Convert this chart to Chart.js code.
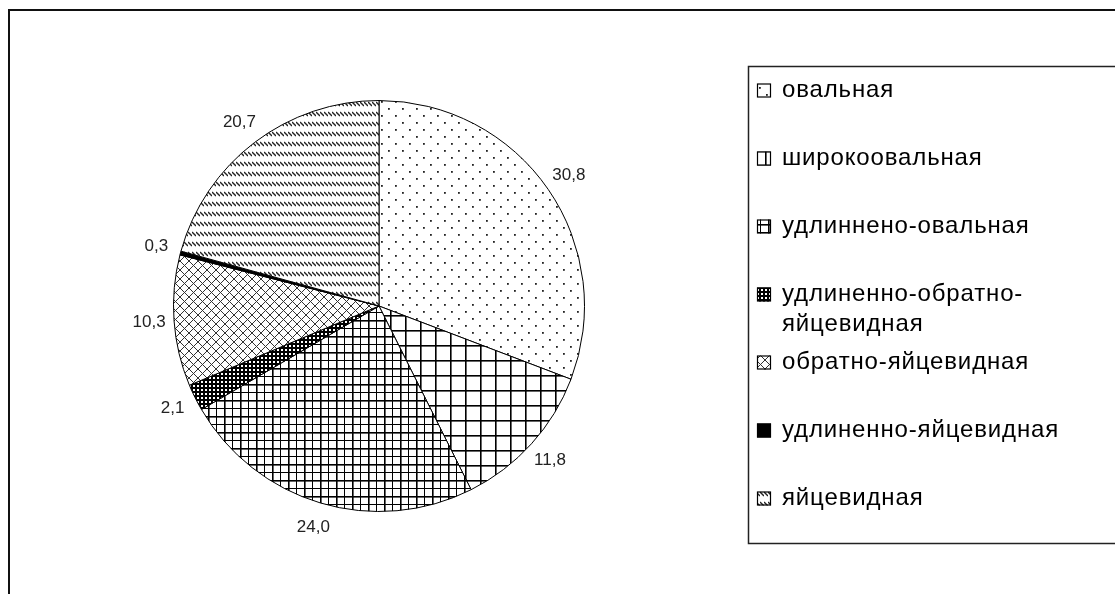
<!DOCTYPE html>
<html>
<head>
<meta charset="utf-8">
<script src="https://cdn.jsdelivr.net/npm/chart.js@4.4.1/dist/chart.umd.min.js"></script>
<style>
html, body { margin: 0; padding: 0; background: #fff; overflow: hidden; }
#wrap { width: 1115px; height: 594px; }
</style>
</head>
<body>
<div id="wrap"><canvas id="chart" width="1115" height="594"></canvas></div>
<script>
"use strict";

// data, clockwise from 12 o'clock
var categories = [
	'овальная',
	'широкоовальная',
	'удлиннено-овальная',
	['удлиненно-обратно-', 'яйцевидная'],
	'обратно-яйцевидная',
	'удлиненно-яйцевидная',
	'яйцевидная'
];
var values = [30.8, 11.8, 24.0, 2.1, 10.3, 0.3, 20.7];

// fill style for each slice (black & white hatching like the original)
var fillKinds = ['dots', 'grid', 'finegrid', 'dense', 'crosshatch', 'solid', 'dashes'];

function makePattern(kind) {
	if (kind === 'solid') return '#000';
	var tile = document.createElement('canvas');
	var t = tile.getContext('2d');
	var w = 8, h = 8;
	if (kind === 'dots') { w = 14; h = 14; }
	if (kind === 'grid') { w = 15; h = 15; }
	if (kind === 'finegrid') { w = 16; h = 16; }
	if (kind === 'dense') { w = 4; h = 4; }
	if (kind === 'crosshatch') { w = 9; h = 9; }
	if (kind === 'dashes') { w = 4; h = 10; }
	tile.width = w; tile.height = h;
	t.fillStyle = '#fff';
	t.fillRect(0, 0, w, h);
	t.fillStyle = '#000';
	t.strokeStyle = '#000';
	if (kind === 'dots') {
		t.fillStyle = '#222';
		t.fillRect(3, 3, 1.8, 1.8);
		t.fillRect(10, 10, 1.8, 1.8);
	} else if (kind === 'grid') {
		t.fillRect(0, 0, w, 1.6);
		t.fillRect(0, 0, 1.6, h);
	} else if (kind === 'finegrid') {
		t.fillRect(0, 0, w, 1.6);
		t.fillRect(0, 0, 1.6, h);
		t.fillRect(0, 8, w, 1);
		t.fillRect(8, 0, 1, h);
	} else if (kind === 'dense') {
		t.fillRect(0, 0, w, h);
		t.fillStyle = '#fff';
		t.fillRect(1, 1, 2, 2);
	} else if (kind === 'crosshatch') {
		t.strokeStyle = '#333';
		t.lineWidth = 1;
		t.beginPath();
		t.moveTo(-1, -1); t.lineTo(w + 1, h + 1);
		t.moveTo(-1, h + 1); t.lineTo(w + 1, -1);
		t.stroke();
	} else if (kind === 'dashes') {
		t.strokeStyle = '#222';
		t.lineWidth = 1.3;
		t.beginPath();
		t.moveTo(0, 2); t.lineTo(4, 6);
		t.stroke();
	}
	return t.createPattern(tile, 'repeat');
}

var fills = fillKinds.map(makePattern);

function fmt(v) {
	return v.toFixed(1).replace('.', ',');
}

// white page with the outer frame (only the left and top edges are in view)
var framePlugin = {
	id: 'frame',
	beforeDraw: function(chart) {
		var ctx = chart.ctx;
		ctx.save();
		ctx.fillStyle = '#fff';
		ctx.fillRect(0, 0, chart.width, chart.height);
		ctx.strokeStyle = '#111';
		ctx.lineWidth = 2;
		ctx.beginPath();
		ctx.moveTo(9, chart.height);
		ctx.lineTo(9, 10);
		ctx.lineTo(chart.width, 10);
		ctx.stroke();
		ctx.restore();
	}
};

// value labels just outside the rim
var labelPlugin = {
	id: 'sliceLabels',
	afterDatasetsDraw: function(chart) {
		var ctx = chart.ctx;
		var meta = chart.getDatasetMeta(0);
		ctx.save();
		ctx.font = '17px "Liberation Sans", Arial, sans-serif';
		ctx.fillStyle = '#222';
		ctx.textAlign = 'center';
		ctx.textBaseline = 'middle';
		meta.data.forEach(function(arc, i) {
			var p = arc.getProps(['x', 'y', 'startAngle', 'endAngle', 'outerRadius'], true);
			var mid = (p.startAngle + p.endAngle) / 2;
			var d = p.outerRadius + 25;
			ctx.fillText(fmt(chart.data.datasets[0].data[i]), p.x + Math.cos(mid) * d, p.y + Math.sin(mid) * d);
		});
		ctx.restore();
	}
};

// boxed legend on the right
var legendPlugin = {
	id: 'boxLegend',
	afterDraw: function(chart) {
		var ctx = chart.ctx;
		var bx = 748.5, by = 66.5;
		var ds = chart.data.datasets[0];
		ctx.save();
		ctx.strokeStyle = '#222';
		ctx.lineWidth = 1.5;
		ctx.strokeRect(bx, by, 500, 477);
		ctx.font = '24px "Liberation Sans", Arial, sans-serif';
		if ('letterSpacing' in ctx) ctx.letterSpacing = '0.85px';
		ctx.fillStyle = '#000';
		ctx.textBaseline = 'middle';
		chart.data.labels.forEach(function(lab, i) {
			var y = by + 24 + i * 68;
			var lines = Array.isArray(lab) ? lab : [lab];
			ctx.fillStyle = ds.backgroundColor[i];
			ctx.fillRect(757, y - 7, 14, 14);
			ctx.lineWidth = 1.2;
			ctx.strokeStyle = '#000';
			ctx.strokeRect(757.5, y - 6.5, 13, 13);
			ctx.fillStyle = '#000';
			lines.forEach(function(line, j) {
				ctx.fillText(line, 782, y + j * 30);
			});
		});
		ctx.restore();
	}
};

var ctx = document.getElementById('chart').getContext('2d');
new Chart(ctx, {
	type: 'pie',
	data: {
		labels: categories,
		datasets: [{
			data: values,
			backgroundColor: fills,
			borderColor: '#000',
			borderWidth: 1
		}]
	},
	options: {
		responsive: false,
		animation: false,
		layout: {
			padding: { left: 173, right: 530, top: 100, bottom: 82 }
		},
		plugins: {
			legend: { display: false },
			tooltip: { enabled: false }
		}
	},
	plugins: [framePlugin, labelPlugin, legendPlugin]
});
</script>
</body>
</html>
